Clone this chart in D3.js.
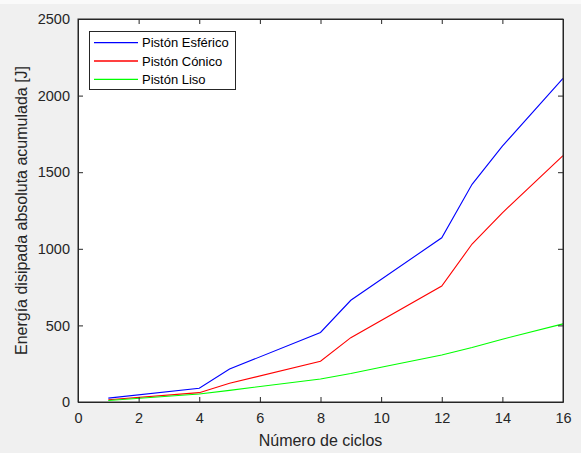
<!DOCTYPE html>
<html><head><meta charset="utf-8">
<script src="https://cdn.jsdelivr.net/npm/d3@7"></script>
<style>body{margin:0;background:#fff;}svg{display:block;}</style>
</head><body>
<script>
const seriesNames = ["Pistón Esférico", "Pistón Cónico", "Pistón Liso"];
const seriesColors = ["#0000ff", "#ff0000", "#00ff00"];
const xEsferico = [1, 4, 5, 8, 9, 12, 13, 14, 16];
const yEsferico = [25, 90, 215, 454, 664, 1072, 1421, 1670, 2112];
const xConico = [1, 4, 5, 8, 9, 12, 13, 14, 16];
const yConico = [15, 61, 122, 266, 420, 757, 1031, 1235, 1608];
const xLiso = [1, 4, 5, 8, 9, 10, 12, 13, 14, 16];
const yLiso = [10, 52, 76, 150, 186, 227, 307, 356, 410, 510];
const xTicks = [0, 2, 4, 6, 8, 10, 12, 14, 16];
const yTicks = [0, 500, 1000, 1500, 2000, 2500];
const xLabel = "Número de ciclos";
const yLabel = "Energía disipada absoluta acumulada [J]";

const W = 581, H = 453;
const L = 78, R = 563, T = 19, B = 402;
const font = "'Liberation Sans', Arial, Helvetica, sans-serif";
const axisColor = "#262626";

const svg = d3.select("body").append("svg").attr("width", W).attr("height", H);
svg.append("rect").attr("width", W).attr("height", H).attr("fill", "#f0f0f0");
svg.append("rect").attr("width", W).attr("height", 4).attr("fill", "#fafafa");

const x = d3.scaleLinear().domain([0, 16]).range([L, R]);
const y = d3.scaleLinear().domain([0, 2500]).range([B, T]);

svg.append("rect").attr("x", L).attr("y", T).attr("width", R - L).attr("height", B - T).attr("fill", "#fff");

const series = [
  {name: seriesNames[0], color: seriesColors[0], xs: xEsferico, ys: yEsferico},
  {name: seriesNames[1], color: seriesColors[1], xs: xConico, ys: yConico},
  {name: seriesNames[2], color: seriesColors[2], xs: xLiso, ys: yLiso}
];
const line = d3.line().x(d => x(d[0])).y(d => y(d[1]));
series.forEach(s => {
  svg.append("path").datum(s.xs.map((v, i) => [v, s.ys[i]]))
    .attr("d", line).attr("fill", "none").attr("stroke", s.color).attr("stroke-width", 1.1);
});

// axes (inward ticks)
const gx = svg.append("g").attr("transform", `translate(0,${B})`)
  .call(d3.axisBottom(x).tickValues(xTicks).tickSizeInner(-5).tickSizeOuter(0).tickPadding(11).tickFormat(d3.format("d")));
const gxt = svg.append("g").attr("transform", `translate(0,${T})`)
  .call(d3.axisTop(x).tickValues(xTicks).tickSizeInner(-5).tickSizeOuter(0).tickFormat(""));
const gy = svg.append("g").attr("transform", `translate(${L},0)`)
  .call(d3.axisLeft(y).tickValues(yTicks).tickSizeInner(-5).tickSizeOuter(0).tickPadding(8).tickFormat(d3.format("d")));
const gyr = svg.append("g").attr("transform", `translate(${R},0)`)
  .call(d3.axisRight(y).tickValues(yTicks).tickSizeInner(-5).tickSizeOuter(0).tickFormat(""));
[gx, gxt, gy, gyr].forEach(g => {
  g.select(".domain").attr("stroke", axisColor).attr("stroke-width", 1);
  g.selectAll(".tick line").attr("stroke", axisColor);
  g.selectAll(".tick text").attr("fill", axisColor).style("font-family", font).style("font-size", "14.5px");
});
gx.selectAll(".tick text").attr("dy", "0.71em");
svg.append("rect").attr("x", L).attr("y", T).attr("width", R - L).attr("height", B - T)
  .attr("fill", "none").attr("stroke", axisColor).attr("stroke-width", 1);

svg.append("text").attr("x", (L + R) / 2).attr("y", 446).attr("text-anchor", "middle")
  .attr("fill", axisColor).style("font-family", font).style("font-size", "16px").text(xLabel);
svg.append("text").attr("transform", `translate(27,${(T + B) / 2}) rotate(-90)`).attr("text-anchor", "middle")
  .attr("fill", axisColor).style("font-family", font).style("font-size", "16px").text(yLabel);

// legend
const lg = svg.append("g");
lg.append("rect").attr("x", 89.5).attr("y", 31.5).attr("width", 146).attr("height", 58)
  .attr("fill", "#fff").attr("stroke", axisColor).attr("stroke-width", 1);
const rowY = [42.7, 61, 79.3];
series.forEach((s, i) => {
  const yy = rowY[i];
  lg.append("line").attr("x1", 94).attr("x2", 138).attr("y1", yy).attr("y2", yy)
    .attr("stroke", s.color).attr("stroke-width", 1.3);
  lg.append("text").attr("x", 142).attr("y", yy).attr("dy", "0.35em")
    .attr("fill", "#000").style("font-family", font).style("font-size", "13px").text(s.name);
});
</script>
</body></html>
